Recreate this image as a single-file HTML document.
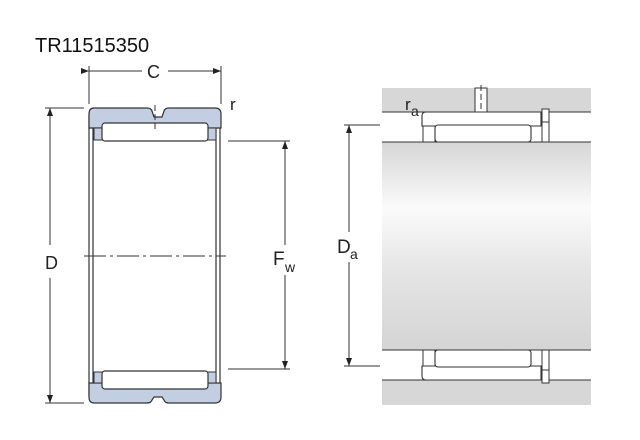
<!DOCTYPE html>
<html><head><meta charset="utf-8"><style>
html,body{margin:0;padding:0;background:#fff;}
svg{display:block;font-family:"Liberation Sans",sans-serif;}
</style></head><body>
<svg width="640" height="440" viewBox="0 0 640 440" xmlns="http://www.w3.org/2000/svg">
<defs>
<linearGradient id="sh" x1="0" y1="0" x2="0" y2="1">
<stop offset="0" stop-color="#d6d6d6"/>
<stop offset="0.32" stop-color="#fbfbfb"/>
<stop offset="0.6" stop-color="#e6e6e6"/>
<stop offset="1" stop-color="#d4d4d4"/>
</linearGradient>
<marker id="ar" markerWidth="8" markerHeight="6" refX="8" refY="3" orient="auto" markerUnits="userSpaceOnUse">
<path d="M0,0 L8,3 L0,6 z" fill="#222"/></marker>
</defs>
<text x="35" y="52" font-size="20" fill="#111">TR11515350</text>

<g stroke="#333" stroke-width="1.2" fill="none">
<line x1="89" y1="115" x2="89" y2="396"/><line x1="93" y1="128" x2="93" y2="384"/>
<line x1="220" y1="115" x2="220" y2="396"/><line x1="216" y1="128" x2="216" y2="384"/>
</g>
<path d="M94,108 H147 Q151,108 152,111 L154,117 H162 L164,111 Q165,108 169,108 H215 Q221,108 221,114 V128 H89 V114 Q89,108 94,108 Z" fill="#c2cfe3" stroke="#333" stroke-width="1.2"/>
<rect x="94" y="128" width="9" height="12" fill="#c2cfe3" stroke="#333" stroke-width="1"/>
<rect x="207" y="128" width="9" height="12" fill="#c2cfe3" stroke="#333" stroke-width="1"/>
<rect x="102" y="123" width="106" height="18" rx="3" fill="#fff" stroke="#333" stroke-width="1.2"/>
<line x1="155" y1="105" x2="155" y2="130" stroke="#333" stroke-dasharray="6,3"/>
<path d="M94,403 H147 Q151,403 152,400 L154,397 H162 L164,400 Q165,403 169,403 H215 Q221,403 221,397 V383 H89 V397 Q89,403 94,403 Z" fill="#c2cfe3" stroke="#333" stroke-width="1.2"/>
<rect x="94" y="372" width="9" height="11" fill="#c2cfe3" stroke="#333" stroke-width="1"/>
<rect x="207" y="372" width="9" height="11" fill="#c2cfe3" stroke="#333" stroke-width="1"/>
<rect x="102" y="371" width="106" height="18" rx="3" fill="#fff" stroke="#333" stroke-width="1.2"/>
<line x1="84" y1="256" x2="226" y2="256" stroke="#333" stroke-width="0.9" stroke-dasharray="22,4,3,4"/>

<g stroke="#333" stroke-width="1">
<line x1="89" y1="66" x2="89" y2="104"/><line x1="221" y1="66" x2="221" y2="104"/>
<line x1="89" y1="71" x2="142" y2="71" marker-start="url(#ar)"/>
<line x1="168" y1="71" x2="221" y2="71" marker-end="url(#ar)"/>
<line x1="45" y1="108" x2="84" y2="108"/><line x1="45" y1="403" x2="84" y2="403"/>
<line x1="50" y1="245" x2="50" y2="108" marker-end="url(#ar)"/>
<line x1="50" y1="278" x2="50" y2="403" marker-end="url(#ar)"/>
<line x1="228" y1="141" x2="290" y2="141"/><line x1="228" y1="369" x2="290" y2="369"/>
<line x1="285" y1="245" x2="285" y2="141" marker-end="url(#ar)"/>
<line x1="285" y1="275" x2="285" y2="369" marker-end="url(#ar)"/>
</g>
<text x="147" y="78" font-size="18" fill="#222">C</text>
<text x="230" y="110" font-size="17" fill="#222">r</text>
<text x="45" y="269" font-size="18" fill="#222">D</text>
<text x="273" y="265" font-size="19" fill="#222">F</text>
<text x="285" y="272" font-size="14" fill="#222">w</text>

<rect x="382" y="88" width="209" height="317" fill="#d7d7d7"/>
<rect x="382" y="112" width="209" height="268" fill="#fff"/>
<rect x="382" y="142" width="209" height="208" fill="url(#sh)"/>
<g stroke="#333" stroke-width="1.1">
<line x1="382" y1="112" x2="591" y2="112"/><line x1="382" y1="142" x2="591" y2="142"/>
<line x1="382" y1="350" x2="591" y2="350"/><line x1="382" y1="380" x2="591" y2="380"/>
</g>
<rect x="475" y="88" width="12" height="24" fill="#fff" stroke="#333" stroke-width="1"/>
<line x1="481" y1="85" x2="481" y2="132" stroke="#333" stroke-dasharray="6,3"/>
<path d="M426,112 H541 V126 H422 V116 Q422,112 426,112 Z" fill="#fff" stroke="#333" stroke-width="1.1"/>
<rect x="423" y="126" width="12" height="16" fill="#fff" stroke="#333" stroke-width="1"/>
<rect x="530" y="126" width="12" height="16" fill="#fff" stroke="#333" stroke-width="1"/>
<rect x="435" y="125" width="96" height="17" rx="3" fill="#fff" stroke="#333" stroke-width="1.1"/>
<rect x="542" y="109" width="7" height="33" fill="#fff" stroke="#333" stroke-width="1"/>
<line x1="542" y1="122" x2="549" y2="122" stroke="#333"/>
<path d="M426,380 H541 V366 H422 V376 Q422,380 426,380 Z" fill="#fff" stroke="#333" stroke-width="1.1"/>
<rect x="423" y="350" width="12" height="16" fill="#fff" stroke="#333" stroke-width="1"/>
<rect x="530" y="350" width="12" height="16" fill="#fff" stroke="#333" stroke-width="1"/>
<rect x="435" y="350" width="96" height="17" rx="3" fill="#fff" stroke="#333" stroke-width="1.1"/>
<rect x="542" y="350" width="7" height="33" fill="#fff" stroke="#333" stroke-width="1"/>
<line x1="542" y1="370" x2="549" y2="370" stroke="#333"/>

<g stroke="#333" stroke-width="1">
<line x1="344" y1="125" x2="380" y2="125"/><line x1="344" y1="366" x2="380" y2="366"/>
<line x1="349" y1="232" x2="349" y2="125" marker-end="url(#ar)"/>
<line x1="349" y1="262" x2="349" y2="366" marker-end="url(#ar)"/>
</g>
<text x="337" y="253" font-size="19" fill="#222">D</text>
<text x="350" y="259" font-size="14" fill="#222">a</text>
<text x="405" y="110" font-size="17" fill="#222">r</text>
<text x="411" y="116" font-size="14" fill="#222">a</text>
</svg>
</body></html>
